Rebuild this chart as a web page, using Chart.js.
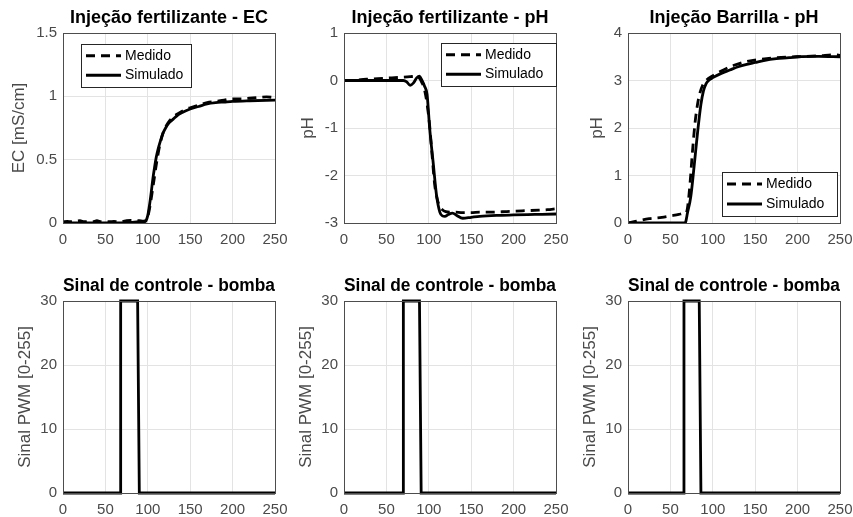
<!DOCTYPE html>
<html>
<head>
<meta charset="utf-8">
<script src="https://cdn.jsdelivr.net/npm/chart.js@4.4.0/dist/chart.umd.min.js"></script>
<style>
  html, body { margin: 0; padding: 0; background: #fff; }
  #fig { position: relative; width: 853px; height: 517px; overflow: hidden; }
  .painel { position: absolute; }
</style>
</head>
<body>
<div id="fig">
  <div class="painel" id="p1"><canvas id="c1"></canvas></div>
  <div class="painel" id="p2"><canvas id="c2"></canvas></div>
  <div class="painel" id="p3"><canvas id="c3"></canvas></div>
  <div class="painel" id="p4"><canvas id="c4"></canvas></div>
  <div class="painel" id="p5"><canvas id="c5"></canvas></div>
  <div class="painel" id="p6"><canvas id="c6"></canvas></div>
</div>
<script>
// ---- dados ----
var tickX = [0, 50, 100, 150, 200, 250];

// EC - injeção fertilizante
var ecTempoMed = [0,5,10,15,20,25,30,35,40,45,50,55,60,65,70,75,80,85,90,95,98,100,103,106,110,114,118,122,126,130,135,140,145,150,160,170,180,190,200,210,220,230,240,250];
var ecMedido = [0.01,0.012,0.01,0.015,0.018,0.01,0.012,0.01,0.018,0.01,0.012,0.01,0.012,0.01,0.012,0.018,0.02,0.02,0.018,0.015,0.02,0.05,0.15,0.28,0.46,0.61,0.71,0.77,0.81,0.84,0.86,0.88,0.9,0.91,0.93,0.95,0.96,0.97,0.98,0.98,0.985,0.99,0.995,0.99];
var ecTempoSim = [0,20,40,60,80,90,96,98,100,102,104,106,108,110,112,115,118,121,125,130,135,140,150,160,170,180,190,200,220,250];
var ecSimulado = [0,0,0,0,0.005,0.01,0.01,0.02,0.06,0.14,0.24,0.35,0.44,0.52,0.58,0.65,0.71,0.75,0.79,0.82,0.85,0.87,0.9,0.92,0.94,0.95,0.955,0.96,0.965,0.97];

// pH - injeção fertilizante
var phfTempoMed = [0,10,20,30,40,50,60,70,78,84,88,92,95,98,101,104,107,110,113,116,120,125,130,140,150,160,175,190,200,215,230,240,250];
var phfMedido = [0,0,0.02,0.03,0.04,0.05,0.06,0.07,0.08,0.09,0.07,-0.05,-0.2,-0.5,-0.95,-1.6,-2.2,-2.5,-2.65,-2.72,-2.76,-2.77,-2.77,-2.78,-2.78,-2.77,-2.77,-2.76,-2.75,-2.74,-2.73,-2.72,-2.7];
var phfTempoSim = [0,20,40,60,70,74,78,82,86,89,92,95,98,101,105,109,113,116,119,123,128,133,140,150,160,180,200,225,250];
var phfSimulado = [0,0,0,0,0,-0.03,-0.1,-0.05,0.06,0.09,0.0,-0.12,-0.3,-1.0,-1.7,-2.4,-2.77,-2.85,-2.86,-2.82,-2.79,-2.84,-2.9,-2.88,-2.86,-2.84,-2.83,-2.82,-2.81];

// pH - injeção barrilla
var bTempoMed = [0,10,25,40,50,60,65,68,70,73,76,79,82,85,88,92,100,110,125,140,150,175,200,225,245,250];
var bMedido = [0.0,0.04,0.09,0.12,0.15,0.18,0.2,0.2,0.3,0.8,1.5,2.1,2.5,2.75,2.9,3.0,3.1,3.2,3.32,3.4,3.43,3.48,3.5,3.52,3.54,3.53];
var bTempoSim = [0,20,40,60,67,68,70,74,78,82,86,89,92,95,100,110,120,130,140,150,160,175,190,200,225,250];
var bSimulado = [0,0,0,0,0,0.02,0.2,0.55,1.2,1.9,2.5,2.78,2.93,3.0,3.06,3.15,3.22,3.29,3.34,3.38,3.42,3.46,3.48,3.5,3.51,3.5];

// sinal PWM da bomba
var pwmTempo1 = [0,68,68,88,90,250];
var pwmSinal1 = [0,0,30,30,0,0];
var pwmTempo2 = [0,70,70,89,91,250];
var pwmSinal2 = [0,0,30,30,0,0];
var pwmTempo3 = [0,66,66,84,86,250];
var pwmSinal3 = [0,0,30,30,0,0];

var FONTE = '"Liberation Sans", Arial, Helvetica, sans-serif';
Chart.defaults.font.family = FONTE;
Chart.defaults.color = '#4a4a4a';

function pontos(xs, ys){
	var out = [];
	for (var i = 0; i < xs.length; i++) out.push({x: xs[i], y: ys[i]});
	return out;
}

// caixa do eixo (estilo MATLAB) + legenda dentro da área
var caixaPlugin = {
	id: 'caixa',
	afterDraw: function(chart, args, opts){
		var ctx = chart.ctx, a = chart.chartArea;
		ctx.save();
		ctx.strokeStyle = '#4d4d4d';
		ctx.lineWidth = 1;
		ctx.strokeRect(Math.round(a.left) + 0.5, Math.round(a.top) + 0.5, Math.round(a.right - a.left), Math.round(a.bottom - a.top));
		var lg = opts.legenda;
		if (lg) {
			var x0 = a.left + lg.x, y0 = a.top + lg.y;
			ctx.fillStyle = '#fff';
			ctx.fillRect(x0, y0, lg.w, lg.h);
			ctx.strokeStyle = '#262626';
			ctx.strokeRect(Math.round(x0) + 0.5, Math.round(y0) + 0.5, lg.w, lg.h);
			ctx.font = '14px ' + FONTE;
			ctx.textBaseline = 'middle';
			ctx.fillStyle = '#000';
			chart.data.datasets.forEach(function(ds, i){
				var yy = y0 + lg.h * (i + 0.5) / 2 + (i === 0 ? 1 : -1);
				ctx.beginPath();
				ctx.setLineDash(ds.borderDash || []);
				ctx.strokeStyle = '#000';
				ctx.lineWidth = ds.borderWidth;
				ctx.moveTo(x0 + 5, yy);
				ctx.lineTo(x0 + 40, yy);
				ctx.stroke();
				ctx.setLineDash([]);
				ctx.fillText(ds.label, x0 + 44, yy);
			});
		}
		ctx.restore();
	}
};

function painel(num, cfg){
	var yw = 60, th = 24, xh = 30, pr = 26;
	var div = document.getElementById('p' + num);
	div.style.left = (cfg.l - yw) + 'px';
	div.style.top = (cfg.t - th) + 'px';
	div.style.width = (yw + cfg.w + pr) + 'px';
	div.style.height = (th + cfg.h + xh) + 'px';

	var ctx = document.getElementById('c' + num).getContext('2d');
	return new Chart(ctx, {
		type: 'line',
		data: { datasets: cfg.datasets },
		options: {
			responsive: true,
			maintainAspectRatio: false,
			animation: false,
			layout: { padding: { left: 0, right: pr, top: 0, bottom: 0 } },
			elements: { point: { radius: 0 } },
			plugins: {
				legend: { display: false },
				tooltip: { enabled: false },
				title: {
					display: true,
					fullSize: false,
					text: cfg.titulo,
					color: '#000',
					font: { size: 18, weight: 'bold', lineHeight: 1 },
					padding: { top: 0, bottom: 6 }
				},
				caixa: { legenda: cfg.legenda }
			},
			scales: {
				x: {
					type: 'linear',
					min: 0, max: 250,
					afterBuildTicks: function(s){ s.ticks = tickX.map(function(v){ return {value: v}; }); },
					grid: { color: '#e3e3e3', drawTicks: false },
					border: { color: '#4d4d4d' },
					ticks: { padding: 8, font: { size: 15 }, maxRotation: 0 },
					afterFit: function(s){ s.height = xh; }
				},
				y: {
					min: cfg.ymin, max: cfg.ymax,
					grid: { color: '#e3e3e3', drawTicks: false },
					border: { color: '#4d4d4d' },
					ticks: { stepSize: cfg.ystep, padding: 6, font: { size: 15 },
						callback: function(v){ return String(Math.round(v * 10) / 10); } },
					title: {
						display: true,
						text: cfg.ytitulo,
						color: '#4a4a4a',
						font: { size: 17, lineHeight: 1 },
						padding: { top: yw - cfg.yoff - 8.5, bottom: 0 }
					},
					afterFit: function(s){ s.width = yw; }
				}
			}
		},
		plugins: [caixaPlugin]
	});
}

function serieMedida(xs, ys){
	return { label: 'Medido', data: pontos(xs, ys), borderColor: '#000', borderWidth: 2.8, borderDash: [9, 6], fill: false, cubicInterpolationMode: 'monotone' };
}
function serieSimulada(xs, ys){
	return { label: 'Simulado', data: pontos(xs, ys), borderColor: '#000', borderWidth: 2.8, fill: false, cubicInterpolationMode: 'monotone' };
}
function seriePwm(xs, ys){
	return { label: 'PWM', data: pontos(xs, ys), borderColor: '#000', borderWidth: 2.8, fill: false, clip: 4 };
}

painel(1, { l: 63, t: 33, w: 212, h: 190, titulo: 'Injeção fertilizante - EC', ytitulo: 'EC [mS/cm]', yoff: 44,
	ymin: 0, ymax: 1.5, ystep: 0.5, legenda: { x: 18, y: 11, w: 110, h: 43 },
	datasets: [serieMedida(ecTempoMed, ecMedido), serieSimulada(ecTempoSim, ecSimulado)] });
painel(2, { l: 344, t: 33, w: 212, h: 190, titulo: 'Injeção fertilizante - pH', ytitulo: 'pH', yoff: 36,
	ymin: -3, ymax: 1, ystep: 1, legenda: { x: 97, y: 10, w: 115, h: 43 },
	datasets: [serieMedida(phfTempoMed, phfMedido), serieSimulada(phfTempoSim, phfSimulado)] });
painel(3, { l: 628, t: 33, w: 212, h: 190, titulo: 'Injeção Barrilla - pH', ytitulo: 'pH', yoff: 31,
	ymin: 0, ymax: 4, ystep: 1, legenda: { x: 94, y: 139, w: 115, h: 44 },
	datasets: [serieMedida(bTempoMed, bMedido), serieSimulada(bTempoSim, bSimulado)] });

painel(4, { l: 63, t: 301, w: 212, h: 192, titulo: 'Sinal de controle - bomba', ytitulo: 'Sinal PWM [0-255]', yoff: 38,
	ymin: 0, ymax: 30, ystep: 10, datasets: [seriePwm(pwmTempo1, pwmSinal1)] });
painel(5, { l: 344, t: 301, w: 212, h: 192, titulo: 'Sinal de controle - bomba', ytitulo: 'Sinal PWM [0-255]', yoff: 38,
	ymin: 0, ymax: 30, ystep: 10, datasets: [seriePwm(pwmTempo2, pwmSinal2)] });
painel(6, { l: 628, t: 301, w: 212, h: 192, titulo: 'Sinal de controle - bomba', ytitulo: 'Sinal PWM [0-255]', yoff: 38,
	ymin: 0, ymax: 30, ystep: 10, datasets: [seriePwm(pwmTempo3, pwmSinal3)] });
</script>
</body>
</html>
